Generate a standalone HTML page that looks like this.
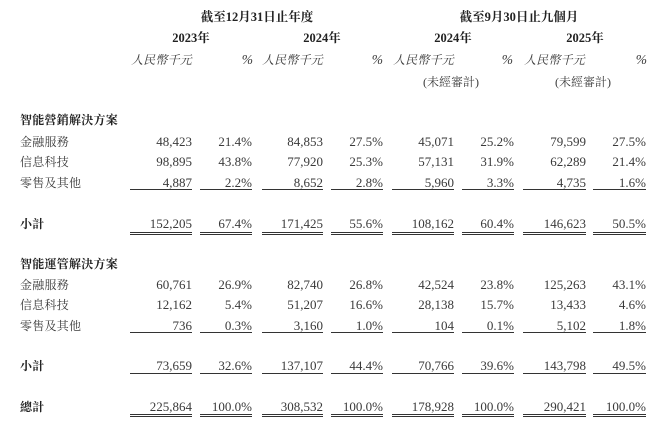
<!DOCTYPE html>
<html><head><meta charset="utf-8">
<style>
html,body{margin:0;padding:0;background:#fff;}
body{width:660px;height:425px;position:relative;overflow:hidden;font-family:"Liberation Serif","Noto Serif CJK SC",serif;color:#3a3a3a;}
.row{position:absolute;left:0;width:660px;height:16px;line-height:16px;font-size:13px;}
.row span{position:absolute;top:0;white-space:nowrap;}
.lab{left:20px;font-size:12px;letter-spacing:0.25px;color:#3a3a3a;}
.b{font-weight:bold;color:#222;}
.c1{right:468px}.c2{right:408px}.c3{right:337px}.c4{right:277px}
.c5{right:206px}.c6{right:146px}.c7{right:74px}.c8{right:14px}
.ctr{width:200px;text-align:center;}
.it{font-style:italic;font-size:12px;letter-spacing:0.2px;}
.pc{font-style:italic;font-size:13.5px;}
.lr{position:absolute;left:0;width:660px;}
.lr i{position:absolute;top:0;height:1px;background:#333;}
.l1{left:130px;width:62px}.l2{left:200px;width:52px}.l3{left:262px;width:61px}.l4{left:331px;width:52px}
.l5{left:392px;width:62px}.l6{left:462px;width:52px}.l7{left:523px;width:63px}.l8{left:593px;width:53px}
.d i{position:absolute;top:0;height:1px;border-bottom:1px solid #333;background:transparent;border-top:1px solid #333;}
</style></head><body>

<div class="row b" style="top:9px;font-size:12.5px"><span class="ctr" style="left:157px">截至12月31日止年度</span><span class="ctr" style="left:419px">截至9月30日止九個月</span></div>
<div class="row b" style="top:30px;font-size:12.5px"><span class="ctr" style="left:91px">2023年</span><span class="ctr" style="left:222px">2024年</span><span class="ctr" style="left:353px">2024年</span><span class="ctr" style="left:485px">2025年</span></div>
<div class="row" style="top:51.5px"><span class="c1 it">人民幣千元</span><span class="pc" style="right:407px">%</span><span class="c3 it">人民幣千元</span><span class="pc" style="right:277px">%</span><span class="c5 it">人民幣千元</span><span class="pc" style="right:147px">%</span><span class="it" style="right:75px">人民幣千元</span><span class="pc" style="right:13px">%</span></div>
<div class="row" style="top:74px;font-size:12px"><span style="left:423px">(未經審計)</span><span style="left:555px">(未經審計)</span></div>

<div class="row" style="top:112px"><span class="lab b">智能營銷解決方案</span></div>
<div class="row" style="top:133.5px"><span class="lab">金融服務</span><span class="c1">48,423</span><span class="c2">21.4%</span><span class="c3">84,853</span><span class="c4">27.5%</span><span class="c5">45,071</span><span class="c6">25.2%</span><span class="c7">79,599</span><span class="c8">27.5%</span></div>
<div class="row" style="top:154px"><span class="lab">信息科技</span><span class="c1">98,895</span><span class="c2">43.8%</span><span class="c3">77,920</span><span class="c4">25.3%</span><span class="c5">57,131</span><span class="c6">31.9%</span><span class="c7">62,289</span><span class="c8">21.4%</span></div>
<div class="row" style="top:174.5px"><span class="lab">零售及其他</span><span class="c1">4,887</span><span class="c2">2.2%</span><span class="c3">8,652</span><span class="c4">2.8%</span><span class="c5">5,960</span><span class="c6">3.3%</span><span class="c7">4,735</span><span class="c8">1.6%</span></div>
<div class="lr" style="top:189px"><i class="l1"></i><i class="l2"></i><i class="l3"></i><i class="l4"></i><i class="l5"></i><i class="l6"></i><i class="l7"></i><i class="l8"></i></div>
<div class="row" style="top:215.5px"><span class="lab b">小計</span><span class="c1">152,205</span><span class="c2">67.4%</span><span class="c3">171,425</span><span class="c4">55.6%</span><span class="c5">108,162</span><span class="c6">60.4%</span><span class="c7">146,623</span><span class="c8">50.5%</span></div>
<div class="lr d" style="top:232px"><i class="l1"></i><i class="l2"></i><i class="l3"></i><i class="l4"></i><i class="l5"></i><i class="l6"></i><i class="l7"></i><i class="l8"></i></div>

<div class="row" style="top:256px"><span class="lab b">智能運管解決方案</span></div>
<div class="row" style="top:277px"><span class="lab">金融服務</span><span class="c1">60,761</span><span class="c2">26.9%</span><span class="c3">82,740</span><span class="c4">26.8%</span><span class="c5">42,524</span><span class="c6">23.8%</span><span class="c7">125,263</span><span class="c8">43.1%</span></div>
<div class="row" style="top:297px"><span class="lab">信息科技</span><span class="c1">12,162</span><span class="c2">5.4%</span><span class="c3">51,207</span><span class="c4">16.6%</span><span class="c5">28,138</span><span class="c6">15.7%</span><span class="c7">13,433</span><span class="c8">4.6%</span></div>
<div class="row" style="top:317.5px"><span class="lab">零售及其他</span><span class="c1">736</span><span class="c2">0.3%</span><span class="c3">3,160</span><span class="c4">1.0%</span><span class="c5">104</span><span class="c6">0.1%</span><span class="c7">5,102</span><span class="c8">1.8%</span></div>
<div class="lr" style="top:332px"><i class="l1"></i><i class="l2"></i><i class="l3"></i><i class="l4"></i><i class="l5"></i><i class="l6"></i><i class="l7"></i><i class="l8"></i></div>
<div class="row" style="top:357.5px"><span class="lab b">小計</span><span class="c1">73,659</span><span class="c2">32.6%</span><span class="c3">137,107</span><span class="c4">44.4%</span><span class="c5">70,766</span><span class="c6">39.6%</span><span class="c7">143,798</span><span class="c8">49.5%</span></div>
<div class="lr" style="top:372.5px"><i class="l1"></i><i class="l2"></i><i class="l3"></i><i class="l4"></i><i class="l5"></i><i class="l6"></i><i class="l7"></i><i class="l8"></i></div>
<div class="row" style="top:399px"><span class="lab b">總計</span><span class="c1">225,864</span><span class="c2">100.0%</span><span class="c3">308,532</span><span class="c4">100.0%</span><span class="c5">178,928</span><span class="c6">100.0%</span><span class="c7">290,421</span><span class="c8">100.0%</span></div>
<div class="lr d" style="top:414px"><i class="l1"></i><i class="l2"></i><i class="l3"></i><i class="l4"></i><i class="l5"></i><i class="l6"></i><i class="l7"></i><i class="l8"></i></div>

</body></html>
